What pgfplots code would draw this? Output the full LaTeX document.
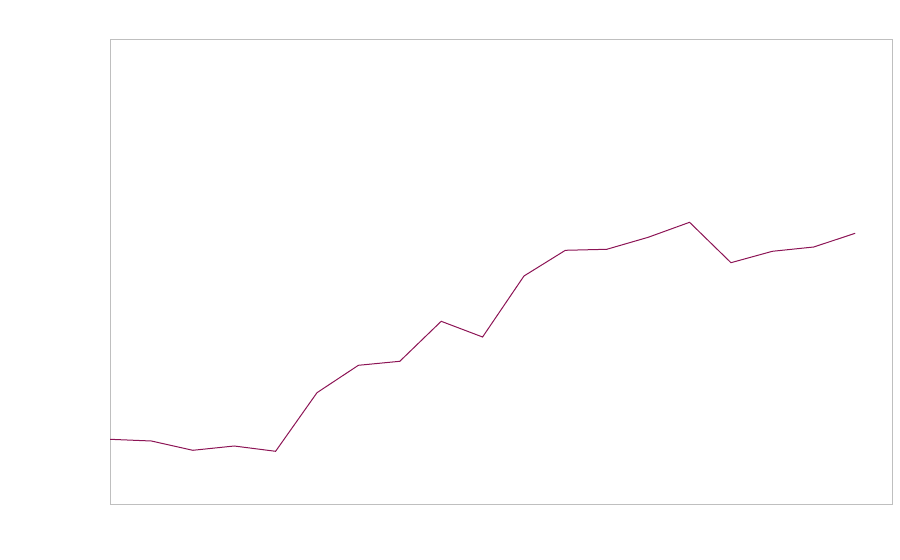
\documentclass[border=0pt]{standalone}
\usepackage{pgfplots}
\pgfplotsset{compat=1.18}
\definecolor{linec}{RGB}{140,20,85}
\definecolor{framec}{RGB}{191,191,191}
\begin{document}
\begin{tikzpicture}
\begin{axis}[
  scale only axis,
  width=782bp, height=464bp,
  xmin=0, xmax=18.89, ymin=0, ymax=464,
  xtick=\empty, ytick=\empty,
  axis line style={framec, line width=1bp},
]
\addplot[linec, line width=1bp, mark=none] coordinates {
(0,64.7) (1,63) (2,53.7) (3,58) (4,52.7) (5,111.3) (6,138.7) (7,142.7) (8,182.7) (9,167)
(10,228) (11,253.7) (12,254.7) (13,266.7) (14,281.7) (15,241.3) (16,252.7) (17,257) (18,270.7)
};
\end{axis}
\path (current axis.south west) ++(-110bp,-56bp) (current axis.north east) ++(8bp,40bp);
\end{tikzpicture}
\end{document}
